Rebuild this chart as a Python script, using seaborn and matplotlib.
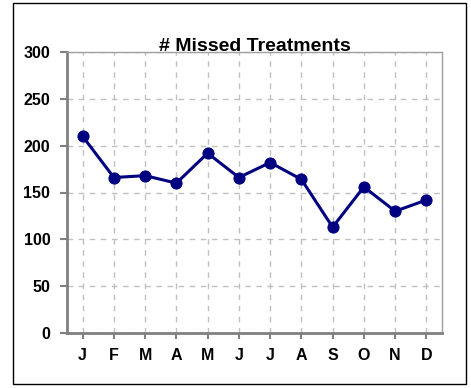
import matplotlib
matplotlib.use("Agg")
import matplotlib.pyplot as plt
import seaborn as sns
import pandas as pd
from matplotlib.patches import Rectangle

months = ["J", "F", "M", "A", "M", "J", "J", "A", "S", "O", "N", "D"]
missed = [210, 166, 168, 160, 192, 166, 182, 164, 113, 156, 130, 142]
y_ticks = [0, 50, 100, 150, 200, 250, 300]

df = pd.DataFrame({"idx": range(len(months)), "missed": missed})

sns.set_style("white")
plt.rcParams["font.family"] = ["Liberation Sans", "DejaVu Sans"]
plt.rcParams["font.weight"] = "bold"
plt.rcParams["text.color"] = "black"
plt.rcParams["xtick.color"] = "black"
plt.rcParams["ytick.color"] = "black"

W, H = 471, 388
fig = plt.figure(figsize=(W / 100, H / 100), dpi=100)
ax = fig.add_axes([67 / W, 1 - 333 / H, (442 - 67) / W, (333 - 52) / H])

sns.lineplot(data=df, x="idx", y="missed", ax=ax, color="#000080",
             linewidth=2.2, marker="o", markersize=8,
             markeredgecolor="#000080", markerfacecolor="#000080", zorder=3)

ax.set_xlim(-0.5, len(months) - 0.5)
ax.set_ylim(0, 300)
ax.set_xticks(range(len(months)))
ax.set_xticklabels(months)
ax.set_yticks(y_ticks)
ax.set_xlabel("")
ax.set_ylabel("")

ax.grid(True, color="#c0c0c0", linestyle=(0, (4, 4)), linewidth=1)
ax.set_axisbelow(True)

for side in ("left", "bottom"):
    ax.spines[side].set_color("#808080")
    ax.spines[side].set_linewidth(2)
for side in ("top", "right"):
    ax.spines[side].set_color("#a0a0a0")
    ax.spines[side].set_linewidth(1)

ax.tick_params(axis="y", left=True, length=5, width=1.5, color="#808080",
               labelcolor="black", pad=7, labelsize=11.5)
ax.tick_params(axis="x", bottom=True, length=4, width=1.5, color="#808080",
               labelcolor="black", pad=7, labelsize=11.5)
for lbl in ax.get_xticklabels() + ax.get_yticklabels():
    lbl.set_fontweight("bold")

ax.set_title("# Missed Treatments", fontsize=14, fontweight="bold",
             color="black", pad=1)

fig.patches.append(Rectangle((12.5 / W, 1 - 383.5 / H), (465.5 - 12.5) / W,
                             (383.5 - 2.5) / H, transform=fig.transFigure,
                             fill=False, edgecolor="black", linewidth=1))

fig.savefig("out.png", dpi=100)
